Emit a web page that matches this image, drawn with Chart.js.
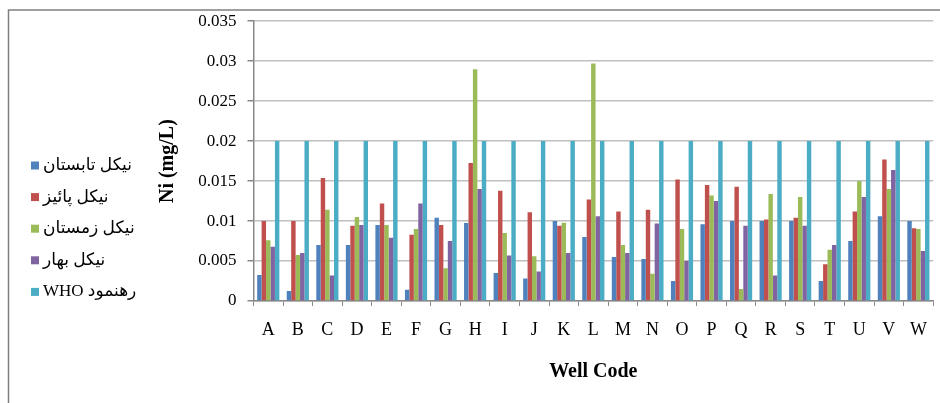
<!DOCTYPE html>
<html>
<head>
<meta charset="utf-8">
<script src="https://cdn.jsdelivr.net/npm/chart.js@4/dist/chart.umd.min.js"></script>
<style>
  html, body { margin: 0; padding: 0; background: #fff; }
  #wrap { width: 940px; height: 403px; position: relative; }
</style>
</head>
<body>
<div id="wrap"><canvas id="c"></canvas></div>
<script>
// Well codes along the x axis
const wells = ['A','B','C','D','E','F','G','H','I','J','K','L','M','N','O','P','Q','R','S','T','U','V','W'];

// Nickel concentration (mg/L) per season
const niSummer = [0.00325, 0.00125, 0.007, 0.007, 0.0095, 0.0014, 0.0104, 0.00975, 0.0035, 0.0028, 0.01, 0.008,
                  0.0055, 0.00525, 0.0025, 0.0096, 0.01, 0.01, 0.01, 0.0025, 0.0075, 0.0106, 0.01];
const niAutumn = [0.01, 0.01, 0.0154, 0.0094, 0.0122, 0.0083, 0.0095, 0.01725, 0.0138, 0.0111, 0.0094, 0.0127,
                  0.0112, 0.0114, 0.0152, 0.0145, 0.0143, 0.0102, 0.0104, 0.0046, 0.0112, 0.0177, 0.0091];
const niWinter = [0.0076, 0.00575, 0.0114, 0.0105, 0.0095, 0.009, 0.0041, 0.029, 0.0085, 0.0056, 0.0098, 0.0297,
                  0.007, 0.0034, 0.009, 0.0132, 0.0015, 0.0134, 0.013, 0.0064, 0.015, 0.014, 0.009];
const niSpring = [0.0068, 0.006, 0.0032, 0.0095, 0.0079, 0.0122, 0.0075, 0.014, 0.0057, 0.0037, 0.006, 0.0106,
                  0.006, 0.0097, 0.005, 0.0125, 0.0094, 0.0032, 0.0094, 0.007, 0.013, 0.0164, 0.00625];
// WHO guideline value
const whoGuide = [0.02, 0.02, 0.02, 0.02, 0.02, 0.02, 0.02, 0.02, 0.02, 0.02, 0.02, 0.02,
                  0.02, 0.02, 0.02, 0.02, 0.02, 0.02, 0.02, 0.02, 0.02, 0.02, 0.02];

const seriesNames = ['نیکل تابستان', 'نیکل پائیز', 'نیکل زمستان', 'نیکل بهار', 'WHO رهنمود'];
const seriesValues = [niSummer, niAutumn, niWinter, niSpring, whoGuide];

// y axis range and step (mg/L)
const yMin = 0, yMax = 0.035, yStep = 0.005;

const seriesColors = ['#4F81BD', '#C0504D', '#9BBB59', '#8064A2', '#4BACC6'];
const serif = '"Liberation Serif", "Times New Roman", "DejaVu Sans", serif';

// Thin frame along the top and left edges
const framePlugin = {
  id: 'frame',
  beforeDraw(chart) {
    const ctx = chart.ctx;
    ctx.save();
    ctx.strokeStyle = '#808080';
    ctx.lineWidth = 1.5;
    ctx.beginPath();
    ctx.moveTo(8.5, 403);
    ctx.lineTo(8.5, 10);
    ctx.lineTo(940, 10);
    ctx.stroke();
    ctx.restore();
  }
};

// Series key drawn in a column at the left side
const sideLegend = {
  id: 'sideLegend',
  afterDraw(chart) {
    const ctx = chart.ctx;
    ctx.save();
    ctx.font = '17px ' + serif;
    ctx.textBaseline = 'middle';
    ctx.textAlign = 'left';
    chart.data.datasets.forEach((ds, i) => {
      const y = 165.5 + i * 31.6;
      ctx.fillStyle = ds.backgroundColor;
      ctx.fillRect(31, y - 4, 8, 8);
      ctx.fillStyle = '#000';
      ctx.fillText(ds.label, 43, y);
    });
    ctx.restore();
  }
};

new Chart(document.getElementById('c'), {
  type: 'bar',
  data: {
    labels: wells,
    datasets: seriesNames.map((name, i) => ({
      label: name,
      data: seriesValues[i],
      backgroundColor: seriesColors[i],
      borderWidth: 0,
      categoryPercentage: 0.75,
      barPercentage: 1.0
    }))
  },
  options: {
    responsive: true,
    maintainAspectRatio: false,
    animation: false,
    layout: { padding: { left: 140, right: 5, top: 21, bottom: 0 } },
    plugins: {
      legend: { display: false },
      tooltip: { enabled: false }
    },
    scales: {
      x: {
        afterFit(scale) { scale.height = 102; },
        grid: {
          offset: true,
          drawOnChartArea: false,
          drawTicks: true,
          tickLength: 5,
          tickColor: '#888888',
          lineWidth: 1
        },
        border: { color: '#888888', width: 1.5 },
        ticks: {
          color: '#000',
          font: { family: serif, size: 18 },
          padding: 13,
          maxRotation: 0,
          autoSkip: false
        },
        title: {
          display: true,
          text: 'Well Code',
          color: '#000',
          font: { family: serif, size: 20, weight: 'bold' },
          padding: { top: 0, bottom: 19 }
        }
      },
      y: {
        min: yMin,
        max: yMax,
        afterFit(scale) { scale.width = 113.5; },
        grid: {
          color: '#C0C0C0',
          lineWidth: 1.5,
          tickLength: 6,
          tickColor: '#888888'
        },
        border: { color: '#888888', width: 1.5 },
        ticks: {
          stepSize: yStep,
          color: '#000',
          font: { family: serif, size: 17 },
          padding: 11,
          callback: v => String(+Number(v).toFixed(3))
        },
        title: {
          display: true,
          text: 'Ni (mg/L)',
          color: '#000',
          font: { family: serif, size: 20, weight: 'bold' },
          padding: { top: 16, bottom: 0 }
        }
      }
    }
  },
  plugins: [framePlugin, sideLegend]
});
</script>
</body>
</html>
